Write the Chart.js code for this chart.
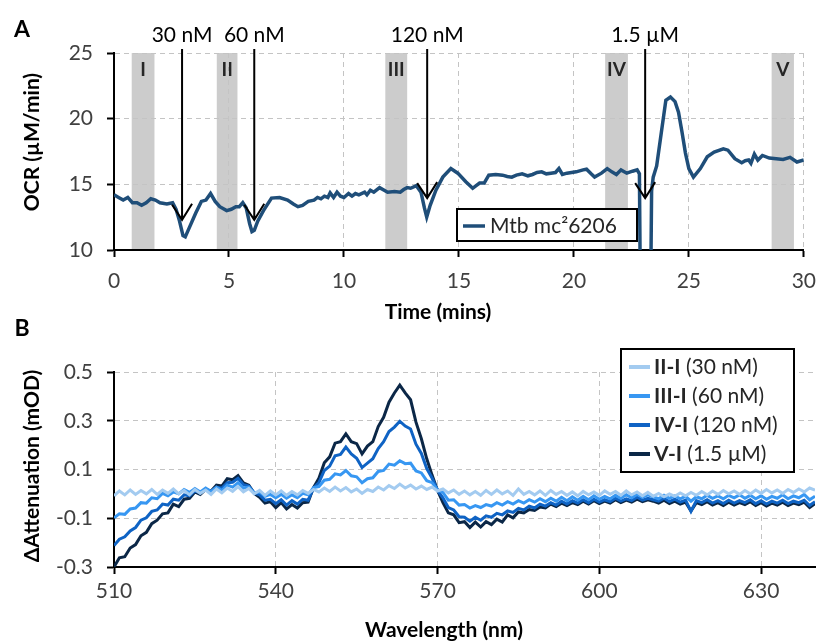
<!DOCTYPE html>
<html><head><meta charset="utf-8">
<script src="https://cdn.jsdelivr.net/npm/chart.js@4.4.1/dist/chart.umd.min.js"></script>
<style>
html,body{margin:0;padding:0;background:#fff;}
#wrap{position:relative;width:828px;height:642px;overflow:hidden;background:#fff;}
#c1{position:absolute;left:0;top:0;}
#c2{position:absolute;left:0;top:315px;}
</style></head><body>
<div id="wrap">
<canvas id="c1" width="828" height="330"></canvas>
<canvas id="c2" width="828" height="327"></canvas>
</div>
<script>
// ---------- Panel A data ----------
const ocrTime = [0.0,0.2,0.4,0.6,0.8,1.0,1.2,1.4,1.6,1.8,2.0,2.3,2.55,2.7,2.85,3.0,3.1,3.3,3.55,3.8,4.0,4.2,4.4,4.6,4.9,5.1,5.3,5.45,5.6,5.75,5.9,6.0,6.1,6.25,6.5,6.85,7.2,7.55,7.8,8.0,8.2,8.45,8.7,8.85,9.0,9.15,9.3,9.4,9.55,9.7,9.85,10.0,10.2,10.35,10.5,10.65,10.9,11.0,11.15,11.3,11.55,11.75,11.9,12.2,12.45,12.6,12.75,12.9,13.15,13.35,13.5,13.6,13.75,14.0,14.3,14.65,14.95,15.3,15.6,15.75,15.9,16.1,16.3,16.6,16.9,17.1,17.3,17.5,17.75,18.0,18.2,18.4,18.6,18.8,19.0,19.2,19.35,19.5,19.7,19.9,20.1,20.4,20.55,20.75,20.9,21.2,21.45,21.65,21.85,22.05,22.3,22.55,22.75,22.85,22.9,23.33,23.38,23.45,23.6,23.8,24.0,24.2,24.4,24.55,24.7,24.85,25.0,25.2,25.5,25.8,26.1,26.5,26.7,27.0,27.3,27.45,27.6,27.7,27.85,28.0,28.2,28.5,28.8,29.1,29.4,29.7,30.0];
const ocrValue = [14.2,14.0,13.8,14.0,13.6,13.6,13.4,13.6,13.9,13.8,13.6,13.5,13.6,13.1,12.2,11.1,11.0,11.8,12.8,13.7,13.8,14.3,13.7,13.3,13.0,13.1,13.3,13.3,13.6,13.2,12.0,11.4,11.5,12.2,13.0,13.95,14.0,13.8,13.5,13.3,13.4,13.7,13.8,14.0,13.9,14.1,14.0,14.35,14.0,14.4,14.1,14.0,14.3,14.1,14.3,14.2,14.4,14.2,14.55,14.4,14.75,14.55,14.4,14.45,14.4,14.6,14.75,14.7,14.9,14.4,13.2,12.5,13.4,14.55,15.55,16.2,15.85,15.2,14.7,14.9,15.1,15.1,15.7,15.75,15.7,15.6,15.55,15.7,15.8,15.65,15.75,15.9,15.95,15.8,15.85,15.9,16.2,15.75,15.85,15.9,15.95,16.1,16.15,15.8,15.55,15.85,16.2,15.95,15.75,16.1,15.85,16.0,16.1,15.8,5.0,5.0,14.5,15.55,16.4,18.9,21.4,21.65,21.3,20.5,19.0,17.4,16.2,15.55,16.2,17.1,17.45,17.7,17.6,16.95,16.65,16.8,16.85,16.6,17.3,16.85,17.2,17.0,16.95,16.9,17.05,16.7,16.85];
const bandStart = [0.77,4.47,11.8,21.36,28.6];
const bandEnd = [1.76,5.37,12.75,22.35,29.57];
const bandLabel = ['I','II','III','IV','V'];
const arrowTime = [2.96,6.1,13.62,23.1];
const arrowTip = [12.3,12.3,13.95,13.95];
const arrowLabel = ['30 nM','60 nM','120 nM','1.5 µM'];
const seriesA = 'Mtb mc²6206';
const timeTicks = [0,5,10,15,20,25,30];
const ocrTicks = [10,15,20,25];

// ---------- Panel B data (1 nm steps, 510-640 nm) ----------
const wavelength = [];
for (let w = 510; w <= 640; w++) wavelength.push(w);
const diffII = [-0.008,0.012,-0.004,0.016,-0.002,0.014,0.000,0.018,-0.002,0.016,0.002,0.020,0.000,0.014,-0.004,0.018,0.002,0.016,-0.002,0.020,0.004,0.024,0.010,0.030,0.008,0.022,0.000,0.014,-0.006,0.012,-0.004,0.012,-0.006,0.010,-0.004,0.014,0.002,0.018,0.008,0.024,0.010,0.028,0.012,0.026,0.008,0.020,0.002,0.018,0.010,0.028,0.016,0.034,0.022,0.040,0.024,0.036,0.020,0.032,0.018,0.028,0.012,0.020,0.004,0.016,-0.002,0.012,-0.004,0.010,-0.006,0.014,-0.002,0.016,0.000,0.012,-0.006,0.020,-0.002,0.010,-0.004,0.012,-0.006,0.014,-0.002,0.010,-0.006,0.008,-0.008,0.010,-0.004,0.008,-0.006,0.012,-0.002,0.010,-0.006,0.012,-0.004,0.008,-0.008,0.006,-0.010,0.002,-0.012,0.000,-0.010,0.004,-0.008,0.006,-0.006,0.010,-0.004,0.012,-0.002,0.014,0.000,0.012,-0.002,0.014,0.000,0.016,0.002,0.018,0.004,0.016,0.002,0.018,0.006,0.020,0.008,0.024,0.016];
const diffIII = [-0.098,-0.082,-0.084,-0.062,-0.058,-0.036,-0.038,-0.016,-0.020,0.002,-0.008,0.008,0.000,0.018,0.006,0.022,0.008,0.024,0.010,0.028,0.014,0.036,0.028,0.046,0.024,0.028,0.004,0.008,-0.010,-0.002,-0.016,-0.002,-0.018,-0.004,-0.016,0.002,-0.004,0.026,0.030,0.056,0.060,0.082,0.078,0.096,0.074,0.070,0.046,0.062,0.066,0.092,0.096,0.122,0.118,0.136,0.124,0.126,0.094,0.086,0.054,0.046,0.016,0.006,-0.026,-0.024,-0.046,-0.044,-0.058,-0.048,-0.056,-0.044,-0.050,-0.036,-0.046,-0.032,-0.042,-0.028,-0.038,-0.024,-0.034,-0.020,-0.032,-0.018,-0.030,-0.014,-0.028,-0.012,-0.026,-0.010,-0.024,-0.008,-0.022,-0.010,-0.020,-0.006,-0.018,-0.004,-0.016,-0.002,-0.014,-0.004,-0.012,-0.020,-0.006,-0.018,-0.008,-0.020,-0.010,-0.030,-0.012,-0.020,-0.006,-0.018,-0.008,-0.020,-0.006,-0.016,-0.004,-0.018,-0.006,-0.020,-0.008,-0.022,-0.010,-0.018,-0.004,-0.020,-0.008,-0.016,-0.002,-0.024,-0.010];
const diffIV = [-0.212,-0.186,-0.176,-0.152,-0.138,-0.108,-0.098,-0.072,-0.066,-0.042,-0.046,-0.022,-0.026,-0.004,-0.008,0.012,0.004,0.018,0.008,0.026,0.024,0.046,0.048,0.064,0.038,0.032,0.004,-0.004,-0.026,-0.022,-0.040,-0.024,-0.046,-0.028,-0.042,-0.022,-0.026,0.024,0.046,0.096,0.114,0.156,0.162,0.192,0.164,0.146,0.108,0.126,0.144,0.186,0.214,0.256,0.274,0.298,0.278,0.266,0.204,0.166,0.104,0.064,0.014,-0.016,-0.056,-0.066,-0.094,-0.096,-0.112,-0.096,-0.108,-0.090,-0.096,-0.080,-0.086,-0.070,-0.076,-0.060,-0.066,-0.050,-0.058,-0.042,-0.050,-0.036,-0.046,-0.030,-0.042,-0.028,-0.038,-0.024,-0.036,-0.022,-0.034,-0.024,-0.032,-0.018,-0.030,-0.020,-0.028,-0.014,-0.026,-0.018,-0.024,-0.030,-0.018,-0.032,-0.022,-0.034,-0.026,-0.072,-0.028,-0.036,-0.024,-0.038,-0.028,-0.040,-0.026,-0.038,-0.028,-0.036,-0.024,-0.040,-0.028,-0.042,-0.030,-0.038,-0.026,-0.040,-0.030,-0.036,-0.026,-0.048,-0.032];
const diffV = [-0.300,-0.262,-0.258,-0.222,-0.208,-0.172,-0.158,-0.122,-0.108,-0.082,-0.078,-0.042,-0.052,-0.022,-0.018,0.008,-0.002,0.018,0.012,0.036,0.032,0.062,0.058,0.075,0.045,0.036,0.002,-0.014,-0.038,-0.032,-0.056,-0.036,-0.062,-0.044,-0.058,-0.036,-0.034,0.026,0.064,0.128,0.152,0.208,0.214,0.246,0.214,0.206,0.164,0.196,0.214,0.276,0.314,0.376,0.414,0.446,0.414,0.386,0.294,0.226,0.144,0.076,0.014,-0.036,-0.078,-0.086,-0.118,-0.114,-0.138,-0.116,-0.136,-0.114,-0.126,-0.104,-0.116,-0.086,-0.098,-0.074,-0.078,-0.064,-0.068,-0.054,-0.058,-0.042,-0.052,-0.038,-0.048,-0.036,-0.044,-0.030,-0.042,-0.028,-0.040,-0.030,-0.038,-0.024,-0.036,-0.026,-0.034,-0.022,-0.032,-0.024,-0.030,-0.038,-0.026,-0.040,-0.030,-0.042,-0.034,-0.070,-0.036,-0.044,-0.032,-0.046,-0.036,-0.048,-0.034,-0.046,-0.036,-0.044,-0.032,-0.048,-0.036,-0.050,-0.038,-0.046,-0.034,-0.048,-0.038,-0.044,-0.034,-0.056,-0.040];
const seriesBNames = ['II-I','III-I','IV-I','V-I'];
const seriesBConc = [' (30 nM)',' (60 nM)',' (120 nM)',' (1.5 µM)'];
const wlTicks = [510,540,570,600,630];
const attTicks = [-0.3,-0.1,0.1,0.3,0.5];

// ---------- styling ----------
const FONT = 'Lato, "Open Sans", sans-serif';
Chart.defaults.font.family = FONT;
Chart.defaults.color = '#404040';
const GRID = '#c4c4c4';
const colorsB = ['#a3cbf0','#3797f2','#0f63c4','#0b2747'];

function axisCommon(extra) {
  return Object.assign({
    grid: { color: GRID, lineWidth: 1, tickColor: '#000', tickLength: 7, tickWidth: 2 },
    border: { color: '#000', width: 2, dash: [5, 4] },
    ticks: { font: { size: 21 }, color: '#404040' }
  }, extra);
}

function txt(ctx, s, x, y, font, color, align) {
  ctx.font = font; ctx.fillStyle = color || '#000';
  ctx.textAlign = align || 'center'; ctx.textBaseline = 'middle';
  ctx.fillText(s, x, y);
}

// ---------- Panel A ----------
const pluginA = {
  id: 'panelA',
  beforeDraw(chart) {
    const { ctx, chartArea: a, scales: { x } } = chart;
    ctx.save();
    ctx.fillStyle = '#cccccc';
    bandStart.forEach((s, i) => {
      const x1 = x.getPixelForValue(s), x2 = x.getPixelForValue(bandEnd[i]);
      ctx.fillRect(x1, a.top, x2 - x1, a.bottom - a.top);
    });
    bandStart.forEach((s, i) => {
      const xc = (x.getPixelForValue(s) + x.getPixelForValue(bandEnd[i])) / 2;
      txt(ctx, bandLabel[i], xc, a.top + 17, 'bold 19px ' + FONT, '#262626');
    });
    ctx.restore();
  },
  afterDatasetsDraw(chart) {
    const { ctx, chartArea: a, scales: { x, y } } = chart;
    ctx.save();
    ctx.strokeStyle = '#000'; ctx.lineWidth = 2;
    arrowTime.forEach((t, i) => {
      const px = x.getPixelForValue(t), py = y.getPixelForValue(arrowTip[i]);
      ctx.beginPath();
      ctx.moveTo(px, a.top - 4); ctx.lineTo(px, py);
      ctx.moveTo(px - 10, py - 15); ctx.lineTo(px, py); ctx.lineTo(px + 10, py - 16);
      ctx.stroke();
      txt(ctx, arrowLabel[i], px, a.top - 18, '21px ' + FONT, '#000');
    });
    // legend
    const lx = 457, ly = 209, lw = 180, lh = 32;
    ctx.fillStyle = '#fff'; ctx.fillRect(lx, ly, lw, lh);
    ctx.lineWidth = 2; ctx.strokeStyle = '#000'; ctx.strokeRect(lx, ly, lw, lh);
    ctx.strokeStyle = '#1f4e79'; ctx.lineWidth = 3.5;
    ctx.beginPath(); ctx.moveTo(lx + 6, ly + 17); ctx.lineTo(lx + 28, ly + 17); ctx.stroke();
    txt(ctx, seriesA, lx + 33, ly + 17, '21px ' + FONT, '#262626', 'left');
    ctx.restore();
  },
  afterDraw(chart) {
    const { ctx } = chart;
    ctx.save();
    txt(ctx, 'A', 22, 30, 'bold 23px ' + FONT, '#000');
    txt(ctx, 'Time (mins)', 438, 312, 'bold 21px ' + FONT, '#000');
    ctx.translate(32, 142); ctx.rotate(-Math.PI / 2);
    txt(ctx, 'OCR (µM/min)', 0, 0, 'bold 21px ' + FONT, '#000');
    ctx.restore();
  }
};

new Chart(document.getElementById('c1'), {
  type: 'line',
  data: {
    datasets: [{
      label: seriesA,
      data: ocrTime.map((t, i) => ({ x: t, y: ocrValue[i] })),
      borderColor: '#1f4e79', borderWidth: 3.5, pointRadius: 0, tension: 0, fill: false
    }]
  },
  options: {
    responsive: false, animation: false,
    layout: { padding: { left: 0, right: 16, top: 53, bottom: 0 } },
    plugins: { legend: { display: false }, tooltip: { enabled: false } },
    scales: {
      x: axisCommon({
        type: 'linear', min: 0, max: 30,
        afterBuildTicks: s => { s.ticks = timeTicks.map(v => ({ value: v })); },
        afterFit: s => { s.height = 80; },
        ticks: { font: { size: 21 }, color: '#404040', padding: 12, maxRotation: 0 }
      }),
      y: axisCommon({
        type: 'linear', min: 10, max: 25,
        afterBuildTicks: s => { s.ticks = ocrTicks.map(v => ({ value: v })); },
        afterFit: s => { s.width = 114; },
        ticks: { font: { size: 21 }, color: '#404040', padding: 14 }
      })
    }
  },
  plugins: [pluginA]
});

// ---------- Panel B ----------
const pluginB = {
  id: 'panelB',
  afterDatasetsDraw(chart) {
    const { ctx } = chart;
    ctx.save();
    const lx = 621, ly = 34, lw = 173, lh = 123;
    ctx.fillStyle = '#fff'; ctx.fillRect(lx, ly, lw, lh);
    ctx.lineWidth = 2; ctx.strokeStyle = '#000'; ctx.strokeRect(lx, ly, lw, lh);
    seriesBNames.forEach((n, i) => {
      const yy = ly + 18 + i * 29;
      ctx.strokeStyle = colorsB[i]; ctx.lineWidth = 4;
      ctx.beginPath(); ctx.moveTo(lx + 8, yy); ctx.lineTo(lx + 29, yy); ctx.stroke();
      ctx.font = 'bold 21px ' + FONT;
      const wb = ctx.measureText(n).width;
      txt(ctx, n, lx + 33, yy, 'bold 21px ' + FONT, '#262626', 'left');
      txt(ctx, seriesBConc[i], lx + 33 + wb, yy, '21px ' + FONT, '#262626', 'left');
    });
    ctx.restore();
  },
  afterDraw(chart) {
    const { ctx } = chart;
    ctx.save();
    txt(ctx, 'B', 22, 14, 'bold 23px ' + FONT, '#000');
    txt(ctx, 'Wavelength (nm)', 444, 315, 'bold 21px ' + FONT, '#000');
    ctx.translate(32, 151); ctx.rotate(-Math.PI / 2);
    txt(ctx, 'ΔAttenuation (mOD)', 0, 0, 'bold 21px ' + FONT, '#000');
    ctx.restore();
  }
};

const seriesB = [diffII, diffIII, diffIV, diffV];
new Chart(document.getElementById('c2'), {
  type: 'line',
  data: {
    datasets: seriesB.map((arr, i) => ({
      label: seriesBNames[i] + seriesBConc[i],
      data: wavelength.map((w, j) => ({ x: w, y: arr[j] })),
      borderColor: colorsB[i], borderWidth: 3, pointRadius: 0, tension: 0, fill: false
    }))
  },
  options: {
    responsive: false, animation: false,
    layout: { padding: { left: 0, right: 13, top: 57, bottom: 0 } },
    plugins: { legend: { display: false }, tooltip: { enabled: false } },
    scales: {
      x: axisCommon({
        type: 'linear', min: 510, max: 640,
        afterBuildTicks: s => { s.ticks = wlTicks.map(v => ({ value: v })); },
        afterFit: s => { s.height = 75; },
        ticks: { font: { size: 21 }, color: '#404040', padding: 5, maxRotation: 0 }
      }),
      y: axisCommon({
        type: 'linear', min: -0.3, max: 0.5,
        afterBuildTicks: s => { s.ticks = attTicks.map(v => ({ value: v })); },
        afterFit: s => { s.width = 114; },
        ticks: { font: { size: 21 }, color: '#404040', padding: 14, callback: v => String(v) }
      })
    }
  },
  plugins: [pluginB]
});
</script>
</body></html>
